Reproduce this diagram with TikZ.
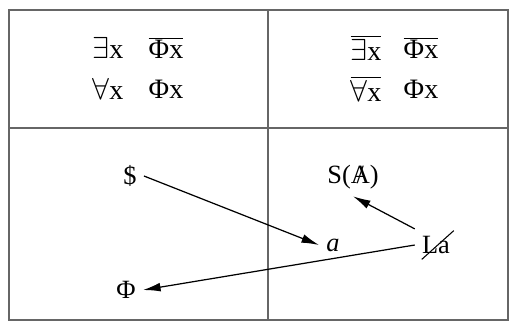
\documentclass[tikz,border=0pt]{standalone}
\usepackage{fontspec}
\setmainfont{Liberation Serif}
\usetikzlibrary{arrows.meta}
\newcommand{\ovl}[1]{$\overline{\mbox{#1}}$}
\newcommand{\barred}[1]{\ooalign{#1\cr\hidewidth/\hidewidth\cr}}
\tikzset{
  frame/.style={draw=black!60, line width=1.2pt},
  formula/.style={font=\fontsize{16}{18}\selectfont, inner sep=1pt},
  term/.style={font=\fontsize{15}{17}\selectfont, inner sep=4pt},
  pointer/.style={-{Latex[length=10pt,width=5pt]}, line width=0.7pt}
}
\begin{document}
\begin{tikzpicture}[x=0.02cm,y=-0.02cm]
        \useasboundingbox (0,0) rectangle (516,329);
        \draw[frame] (9,10) rectangle (508,320);
        \draw[frame] (268,10) -- (268,320);
        \draw[frame] (9,128) -- (508,128);
        % formules du haut
        \node[formula] (Ex) at (108,48){$\exists$x};
        \node[formula] (nPhi) at (166,48){\ovl{Φx}};
        \node[formula] (Ax) at (108,89){$\forall$x};
        \node[formula] (Phi) at (166,89){Φx};
        \node[formula] (nEx) at (366,48){\ovl{$\exists$x}};
        \node[formula] (nPhiR) at (421,48){\ovl{Φx}};
        \node[formula] (nAx) at (366,89){\ovl{$\forall$x}};
        \node[formula] (PhiR) at (421,89){Φx};
        % termes du bas
        \node[term] (S) at (130,176){\$};
        \node[term] (Ph) at (126,290){Φ};
        \node[term] (a) at (333,245){\itshape a};
        \node[term] (SA) at (353,177){S(\barred{A})};
        \node[term] (La) at (436,245){La};
        \draw[line width=0.6pt] ([xshift=4pt,yshift=1pt]La.south west) -- ([xshift=-2pt,yshift=-1pt]La.north east);
        \draw[pointer] (S.east) to (a.west);
        \draw[pointer] (La.north west) to (SA.south);
        \draw[pointer] (La.west) to (Ph.east);
    \end{tikzpicture}
\end{document}
